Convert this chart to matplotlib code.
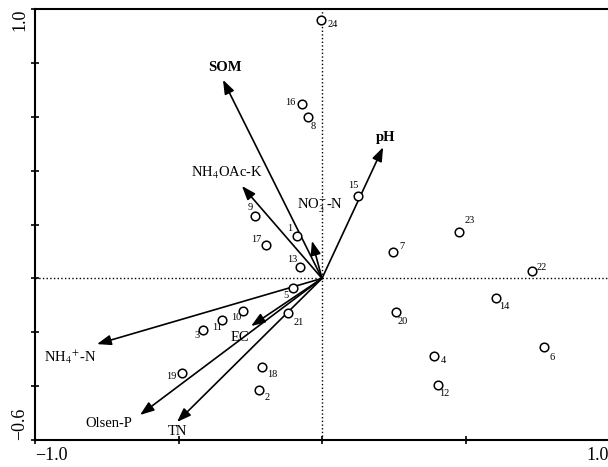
import matplotlib
matplotlib.use('Agg')
import matplotlib.pyplot as plt
import numpy as np

plt.rcParams['font.family'] = ['Liberation Serif', 'DejaVu Serif']
plt.rcParams['mathtext.fontset'] = 'stix'

# sample scores
sample_ids = ['24', '16', '8', '15', '23', '7', '22', '9', '17', '1', '13', '5',
              '10', '11', '3', '21', '19', '18', '2', '14', '20', '4', '6', '12']
sample_x = [-0.003, -0.070, -0.049, 0.125, 0.477, 0.247, 0.732, -0.233, -0.195, -0.087, -0.077, -0.101,
            -0.275, -0.348, -0.415, -0.118, -0.488, -0.209, -0.220, 0.606, 0.258, 0.390, 0.774, 0.404]
sample_y = [0.959, 0.647, 0.599, 0.306, 0.173, 0.098, 0.027, 0.232, 0.124, 0.157, 0.042, -0.036,
            -0.121, -0.154, -0.192, -0.128, -0.351, -0.329, -0.414, -0.073, -0.125, -0.288, -0.255, -0.396]

# environmental variable vectors
env_names = ['SOM', 'pH', r'NH$_4$OAc-K', r'NO$_3^{-}$-N', r'NH$_4$$^{+}$-N', 'EC', 'Olsen-P', 'TN']
env_x = [-0.345, 0.213, -0.279, -0.035, -0.784, -0.247, -0.634, -0.505]
env_y = [0.737, 0.487, 0.343, 0.139, -0.244, -0.177, -0.507, -0.533]

# label offsets in pixels (dx right, dy down)
sample_off = [(12, 4), (-12, -2), (5, 9), (-5, -10), (11, -11), (9, -5), (10, -4), (-5, -8),
              (-10, -5), (-7, -8), (-8, -8), (-7, 7), (-7, 7), (-5, 8), (-6, 5), (11, 10),
              (-11, 4), (10, 8), (8, 8), (8, 8), (7, 9), (9, 5), (8, 10), (6, 8)]
env_off = [(2, -12), (2, -10), (-15, -13), (8, -35), (-27, 13), (-11, 11), (-31, 9), (0, 10)]
env_bold = [True, True, False, False, False, False, False, False]

fig = plt.figure(figsize=(6.08, 4.67), dpi=100)
ax = fig.add_axes([35/608, 27/467, 574/608, 431/467])
ax.set_xlim(-1.0, 1.0)
ax.set_ylim(-0.6, 1.0)

ax.axhline(0, color='black', linestyle=':', linewidth=1.0, zorder=1)
ax.axvline(0, color='black', linestyle=':', linewidth=1.0, zorder=1)

for name, ex, ey, off, bold in zip(env_names, env_x, env_y, env_off, env_bold):
    ax.annotate('', xy=(ex, ey), xytext=(0, 0),
                arrowprops=dict(arrowstyle='-|>,head_length=0.6,head_width=0.22',
                                mutation_scale=14, color='black', lw=1.2,
                                shrinkA=0, shrinkB=0), zorder=3)
    ax.annotate(name, xy=(ex, ey), xytext=(off[0], -off[1]), textcoords='offset pixels',
                ha='center', va='center', fontsize=10.5,
                fontweight='bold' if bold else 'normal', zorder=4)

ax.plot(sample_x, sample_y, 'o', markersize=6.2, markerfacecolor='white',
        markeredgecolor='black', markeredgewidth=1.1, linestyle='none', zorder=5)
for sid, sx, sy, off in zip(sample_ids, sample_x, sample_y, sample_off):
    ax.annotate(sid, xy=(sx, sy), xytext=(off[0], -off[1]), textcoords='offset pixels',
                ha='center', va='center', fontsize=7.5, zorder=6)

ax.spines['right'].set_visible(False)
for s in ['left', 'bottom', 'top']:
    ax.spines[s].set_linewidth(1.5)

ax.set_xticks([-1.0, -0.5, 0, 0.5, 1.0])
ax.set_xticklabels(['\u22121.0', '', '', '', '1.0'], fontsize=13)
ax.set_yticks([-0.6, -0.4, -0.2, 0, 0.2, 0.4, 0.6, 0.8, 1.0])
ax.set_yticklabels(['\u22120.6', '', '', '', '', '', '', '', '1.0'], fontsize=13,
                   rotation=90)
ax.tick_params(direction='inout', length=6, width=1.2, pad=2)
xl = ax.get_xticklabels()
xl[0].set_ha('left')
xl[-1].set_ha('right')
yl = ax.get_yticklabels()
yl[0].set_va('bottom')
yl[-1].set_va('top')

fig.savefig('out.png', dpi=100)
